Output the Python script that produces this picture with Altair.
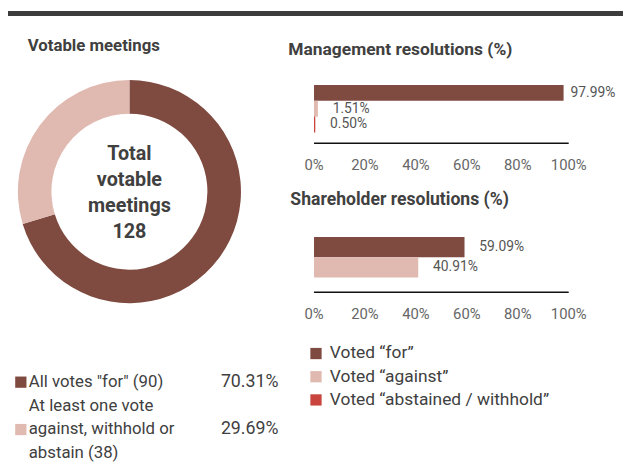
import altair as alt
import pandas as pd

# ---- data ----
donut_groups = ['All votes "for" (90)', 'At least one vote\nagainst, withhold or\nabstain (38)']
donut_counts = [90, 38]
donut_pcts = ["70.31%", "29.69%"]
donut_total = 128

vote_categories = ["Voted \u201cfor\u201d", "Voted \u201cagainst\u201d", "Voted \u201cabstained / withhold\u201d"]
mgmt_values = [97.99, 1.51, 0.50]
sh_categories = vote_categories[:2]
sh_values = [59.09, 40.91]
tick_values = [0, 20, 40, 60, 80, 100]

# ---- style ----
FONT = "Roboto"
DARK = "#7f4a40"
LIGHT = "#e0b9b0"
RED = "#c9443c"
TXT = "#404040"
vote_colors = [DARK, LIGHT, RED]

donut_df = pd.DataFrame({"group": donut_groups, "count": donut_counts,
                         "pct": donut_pcts, "idx": [0, 1]})
mgmt_df = pd.DataFrame({"vote": vote_categories, "value": mgmt_values,
                        "label": [f"{v:.2f}%" for v in mgmt_values]})
sh_df = pd.DataFrame({"vote": sh_categories, "value": sh_values,
                      "label": [f"{v:.2f}%" for v in sh_values]})
tick_df = pd.DataFrame({"t": tick_values, "label": [f"{t}%" for t in tick_values]})
leg_df = pd.DataFrame({"vote": vote_categories})
one = pd.DataFrame({"a": [0]})

vote_color = alt.Scale(domain=vote_categories, range=vote_colors)
donut_color = alt.Scale(domain=donut_groups, range=[DARK, LIGHT])
xscale = alt.Scale(domain=[0, 100], range=[310, 568])

layers = []

# top rule
layers.append(alt.Chart(one).mark_rule(color="#3c3c3c", strokeWidth=5).encode(
    x=alt.value(0), x2=alt.value(623), y=alt.value(2.5)))

# titles
def title(txt, x, y, size):
    return alt.Chart(one).mark_text(text=txt, font=FONT, fontSize=size, fontWeight="bold",
                                    color=TXT, align="left", baseline="middle").encode(
        x=alt.value(x), y=alt.value(y))

layers += [title("Votable meetings", 20, 36, 17),
           title("Management resolutions (%)", 284, 40, 17.6),
           title("Shareholder resolutions (%)", 286, 192, 17.8)]

# donut
layers.append(alt.Chart(donut_df).mark_arc(outerRadius=113, innerRadius=79).encode(
    theta=alt.Theta("count:Q", stack=True),
    order=alt.Order("idx:Q"),
    color=alt.Color("group:N", scale=donut_color, legend=None),
    x=alt.value(123), y=alt.value(183)))
layers.append(alt.Chart(one).mark_text(
    text=f"Total\nvotable\nmeetings\n{donut_total}", lineBreak="\n", lineHeight=26.3,
    font=FONT, fontSize=20, fontWeight="bold", color=TXT, align="center",
    baseline="middle").encode(x=alt.value(123), y=alt.value(145)))

# donut legend
dleg_y = alt.Scale(type="point", domain=donut_groups, range=[376, 424], padding=0)
layers.append(alt.Chart(donut_df).mark_square(size=130, opacity=1, filled=True).encode(
    x=alt.value(13), y=alt.Y("group:N", scale=dleg_y, axis=None),
    color=alt.Color("group:N", scale=donut_color, legend=None)))
for cond, dy in [("datum.idx == 0", 0), ("datum.idx == 1", -23.5)]:
    layers.append(alt.Chart(donut_df).transform_filter(cond).mark_text(
        font=FONT, fontSize=17, color=TXT, align="left", baseline="middle",
        lineBreak="\n", lineHeight=23.5, dy=dy).encode(
        x=alt.value(21), y=alt.Y("group:N", scale=dleg_y, axis=None), text="group:N"))
layers.append(alt.Chart(donut_df).mark_text(
    font=FONT, fontSize=18, color=TXT, align="right", baseline="middle").encode(
    x=alt.value(274), y=alt.Y("group:N", scale=dleg_y, axis=None), text="pct:N"))


def bar_panel(df, cats, yrange, axis_y, tick_y):
    ys = alt.Scale(domain=cats, range=yrange, paddingInner=0, paddingOuter=0)
    out = []
    out.append(alt.Chart(df).mark_bar().encode(
        x=alt.X("value:Q", scale=xscale, axis=None),
        y=alt.Y("vote:N", scale=ys, axis=None),
        color=alt.Color("vote:N", scale=vote_color, legend=None)))
    for cond, dx in [("datum.value < 90", 15), ("datum.value >= 90", 7)]:
        out.append(alt.Chart(df).transform_filter(cond).mark_text(
            font=FONT, fontSize=14, color="#555", align="left", baseline="middle",
            dx=dx).encode(
            x=alt.X("value:Q", scale=xscale, axis=None),
            y=alt.Y("vote:N", scale=ys, axis=None), text="label:N"))
    out.append(alt.Chart(one).mark_rule(color="#111", strokeWidth=1.5).encode(
        x=alt.value(310), x2=alt.value(568), y=alt.value(axis_y)))
    out.append(alt.Chart(tick_df).mark_text(font=FONT, fontSize=15, color="#666",
                                            align="center", baseline="middle").encode(
        x=alt.X("t:Q", scale=xscale, axis=None), y=alt.value(tick_y), text="label:N"))
    return out

layers += bar_panel(mgmt_df, vote_categories, [75, 123], 134, 156)
layers += bar_panel(sh_df, sh_categories, [229, 270], 285, 307)

# vote legend
vleg_y = alt.Scale(type="point", domain=vote_categories, range=[347, 394], padding=0)
layers.append(alt.Chart(leg_df).mark_square(size=130, opacity=1, filled=True).encode(
    x=alt.value(312), y=alt.Y("vote:N", scale=vleg_y, axis=None),
    color=alt.Color("vote:N", scale=vote_color, legend=None)))
layers.append(alt.Chart(leg_df).mark_text(font=FONT, fontSize=17.6, color=TXT,
                                          align="left", baseline="middle").encode(
    x=alt.value(326), y=alt.Y("vote:N", scale=vleg_y, axis=None), text="vote:N"))

chart = alt.layer(*layers).resolve_scale(
    x="independent", y="independent", color="independent"
).properties(
    width=623, height=466, padding=0, autosize=alt.AutoSizeParams(type="none"),
    background="white"
).configure_view(stroke=None)

chart.save("out.html", embed_options={"renderer": "svg", "actions": False})
